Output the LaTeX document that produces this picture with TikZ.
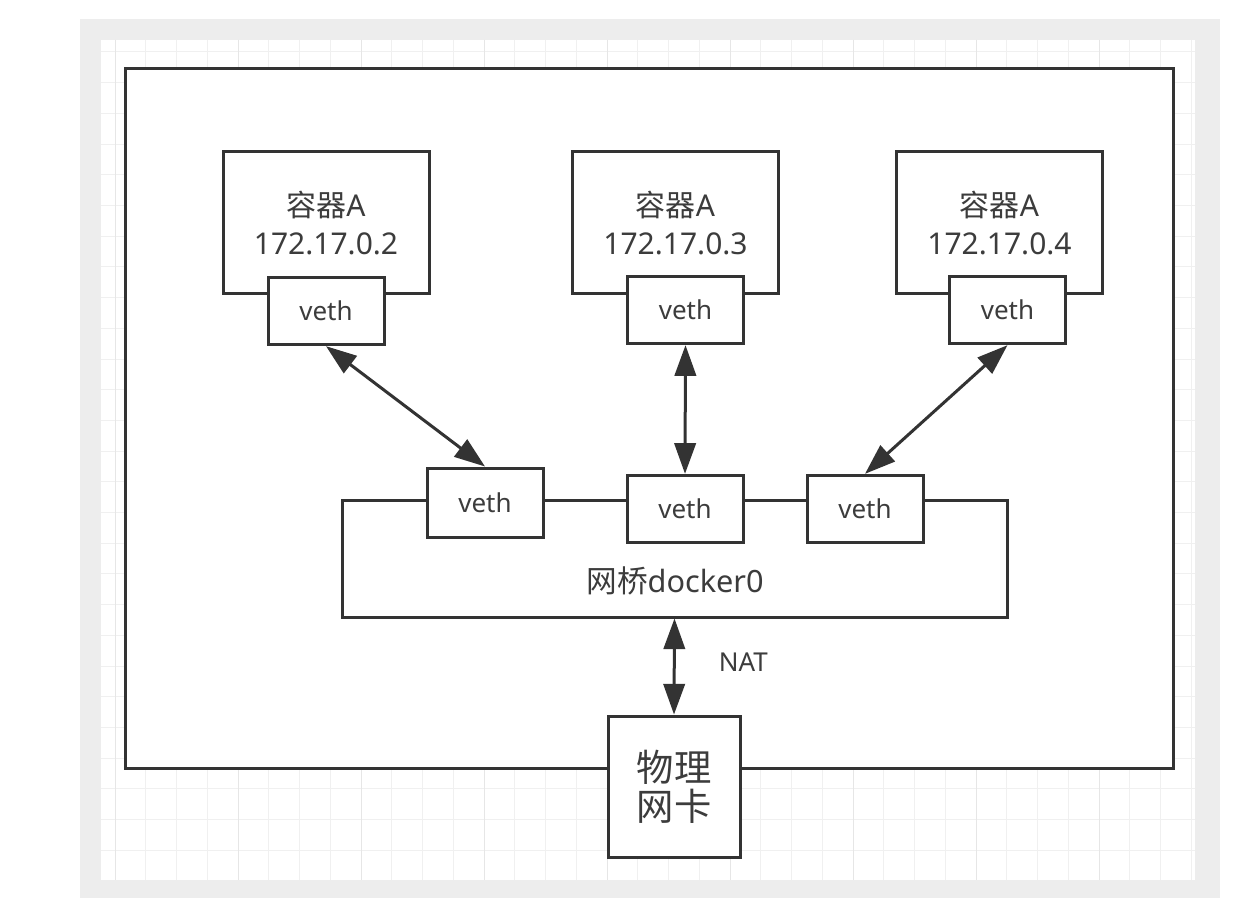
\documentclass[tikz,border=0pt]{standalone}
\usepackage{fontspec}
\setmainfont{Noto Sans}
\newfontfamily\cjk{Noto Sans CJK SC}
\usetikzlibrary{arrows.meta}
\definecolor{linegray}{HTML}{333333}
\definecolor{textgray}{HTML}{3C3C3C}
\definecolor{bggray}{HTML}{EDEDED}
\definecolor{gridminor}{HTML}{F0F0F0}
\definecolor{gridmajor}{HTML}{E6E6E6}
\begin{document}
\begin{tikzpicture}[x=0.75pt,y=-0.75pt,line join=miter,>={Triangle[length=23pt,width=16pt]}]
	\tikzset{box/.style={draw=linegray,line width=2.25pt,fill=white,inner sep=0pt,text=textgray},
		ctr/.style={box,minimum width=154.5pt,minimum height=106.5pt,align=center,font=\fontsize{22.5}{28.5}\selectfont},
		veth/.style={box,minimum width=87pt,minimum height=50.5pt,font=\fontsize{19.5}{23}\selectfont},
		link/.style={<->,draw=linegray,line width=2.25pt}}
	\useasboundingbox (0,0) rectangle (1234,898);
	% canvas with grid
	\fill[bggray] (80,19) rectangle (1220,898);
	\fill[white] (101,40) rectangle (1195,880);
	\foreach \k in {0,...,35} \draw[gridminor,line width=0.75pt] ({115+30.75*\k},40) -- ({115+30.75*\k},880);
	\foreach \k in {0,...,26} \draw[gridminor,line width=0.75pt] (101,{52+30.7*\k}) -- (1195,{52+30.7*\k});
	\foreach \k in {0,4,...,32} \draw[gridmajor,line width=0.75pt] ({115+30.75*\k},40) -- ({115+30.75*\k},880);
	% host
	\node[box,minimum width=786pt,minimum height=524.25pt] (host) at (649,418.5) {};
	% bridge
	\node[box,minimum width=498.75pt,minimum height=87.75pt] (bridge) at (674.5,558.5) {};
	\node[text=textgray,font=\fontsize{23}{28}\selectfont] (brlabel) at (675,581) {{\cjk 网桥}docker0};
	\node[veth,minimum height=51.75pt] (bvethA) at (485,502.5) {veth};
	\node[veth] (bvethB) at (685,509) {veth};
	\node[veth] (bvethC) at (865,509) {veth};
	% containers
	\node[ctr] (ctrA) at (326,223) {{\cjk 容器}A\\172.17.0.2};
	\node[ctr] (ctrB) at (675.5,223) {{\cjk 容器}A\\172.17.0.3};
	\node[ctr] (ctrC) at (999.5,223) {{\cjk 容器}A\\172.17.0.4};
	\node[veth] (vethA) at (326,311) {veth};
	\node[veth] (vethB) at (685.5,310) {veth};
	\node[veth] (vethC) at (1007.5,310) {veth};
	% physical nic
	\node[box,minimum width=99pt,minimum height=105.75pt,align=center,font=\fontsize{28}{29.5}\selectfont\cjk] (nic) at (674,786.5) {物理\\网卡};
	% links
	\draw[link] (vethA.south) -- (bvethA.north);
	\draw[link] (vethB.south) -- (bvethB.north);
	\draw[link] (vethC.south) -- (bvethC.north);
	\draw[link] (bridge.south) -- (nic.north) node[pos=0.45,right=29pt,text=textgray,font=\fontsize{19.5}{23}\selectfont] (nat) {NAT};
\end{tikzpicture}
\end{document}
